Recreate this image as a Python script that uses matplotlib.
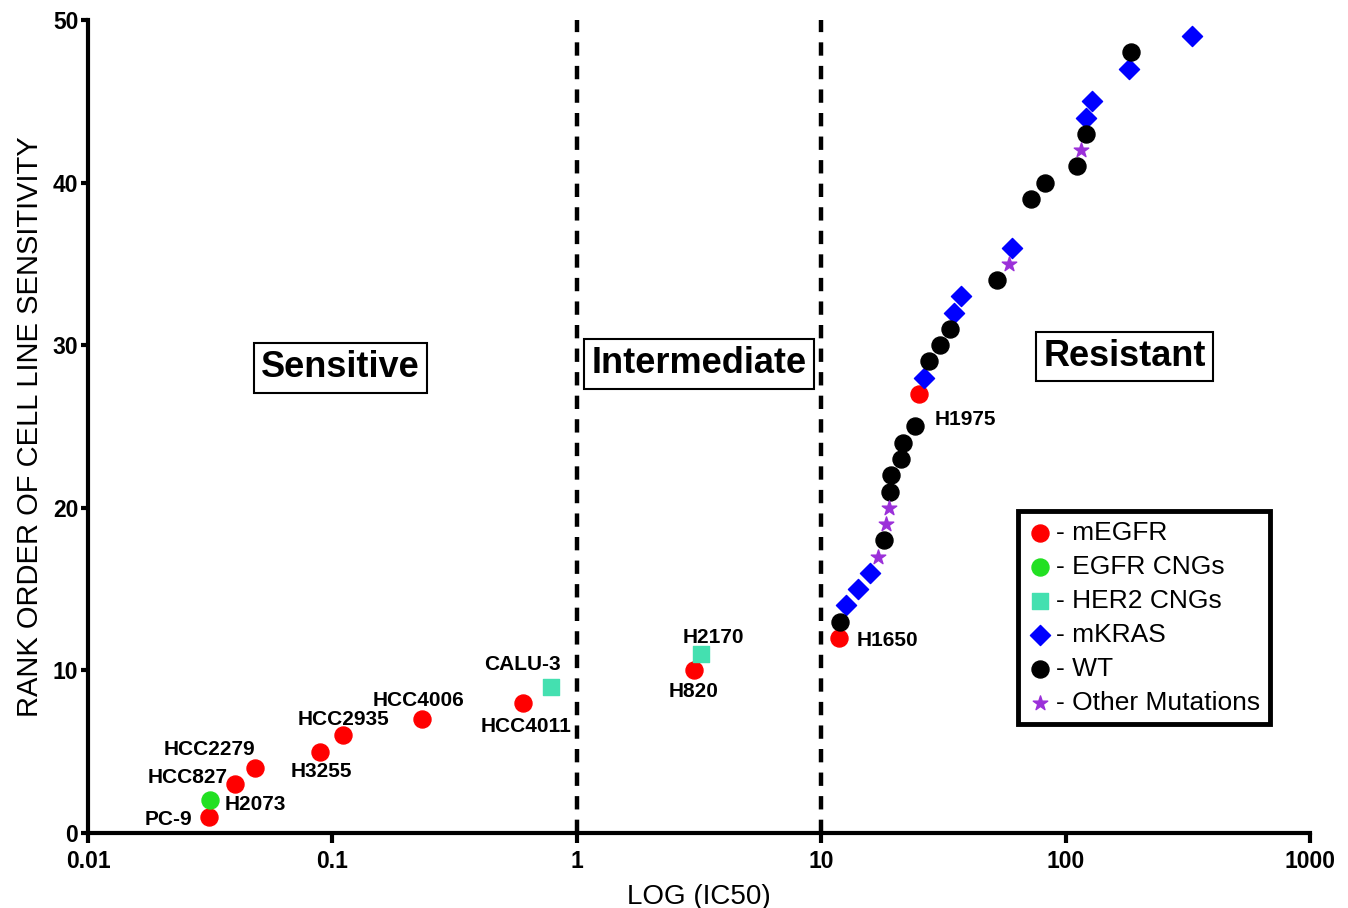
import matplotlib.pyplot as plt
import matplotlib.ticker as mticker

# IC50 values (x) and rank (y) per mutation group
megfr_x = [0.0313, 0.040, 0.0483, 0.0893, 0.111, 0.232, 0.601, 3.02, 11.85, 25.2]
megfr_y = [1, 3, 4, 5, 6, 7, 8, 10, 12, 27]
egfr_cng_x = [0.0316]
egfr_cng_y = [2]
her2_x = [0.782, 3.22]
her2_y = [9, 11]
mkras_x = [12.66, 14.18, 15.87, 26.4, 35.1, 37.2, 60.6, 120.8, 127.8, 181, 328]
mkras_y = [14, 15, 16, 28, 32, 33, 36, 44, 45, 47, 49]
wt_x = [11.96, 18.13, 19.19, 19.37, 21.28, 21.68, 24.29, 27.7, 30.5, 33.5,
        52.6, 71.9, 82.0, 111, 120.8, 184.6]
wt_y = [13, 18, 21, 22, 23, 24, 25, 29, 30, 31, 34, 39, 40, 41, 43, 48]
other_x = [17.13, 18.47, 19.0, 58.4, 116]
other_y = [17, 19, 20, 35, 42]

# cell line labels: name, x, y, offset in pixels
labels = [
    ('PC-9', 0.0313, 1, -41, -3),
    ('H2073', 0.0316, 2, 45, -4),
    ('HCC827', 0.040, 3, -48, 7),
    ('HCC2279', 0.0483, 4, -46, 18),
    ('H3255', 0.0893, 5, 1, -20),
    ('HCC2935', 0.111, 6, 0, 16),
    ('HCC4006', 0.232, 7, -3, 19),
    ('HCC4011', 0.601, 8, 3, -24),
    ('CALU-3', 0.782, 9, -28, 22),
    ('H2170', 3.22, 11, 12, 17),
    ('H820', 3.02, 10, -1, -21),
    ('H1650', 11.85, 12, 48, -3),
    ('H1975', 25.2, 27, 46, -26),
]

regions = ['Sensitive', 'Intermediate', 'Resistant']
region_x = [0.108, 3.16, 174.8]
region_y = [28.6, 28.85, 29.3]

plt.rcParams['font.family'] = ['Liberation Sans', 'DejaVu Sans']

fig = plt.figure(figsize=(13.48, 9.08), dpi=100)
ax = fig.add_axes([0.0653, 0.0826, 0.9065, 0.8954])

ax.scatter(megfr_x, megfr_y, s=150, c='#ff0000', marker='o', label='- mEGFR', zorder=3)
ax.scatter(egfr_cng_x, egfr_cng_y, s=150, c='#22e022', marker='o', label='- EGFR CNGs', zorder=3)
ax.scatter(her2_x, her2_y, s=130, c='#44e0b0', marker='s', label='- HER2 CNGs', zorder=3)
ax.scatter(mkras_x, mkras_y, s=105, c='#0000ff', marker='D', label='- mKRAS', zorder=3)
ax.scatter(wt_x, wt_y, s=150, c='#000000', marker='o', label='- WT', zorder=3)
ax.scatter(other_x, other_y, s=120, c='#9b30d9', marker='*', label='- Other Mutations', zorder=3)

for name, x, y, dx, dy in labels:
    ax.annotate(name, (x, y), xytext=(dx, dy), textcoords='offset pixels',
                ha='center', va='center', fontsize=15, fontweight='bold')

ax.axvline(1, color='black', lw=3.2, ls=(0, (3, 2.3)), zorder=1)
ax.axvline(10, color='black', lw=3.2, ls=(0, (3, 2.3)), zorder=1)

for txt, x, y in zip(regions, region_x, region_y):
    ax.text(x, y, txt, ha='center', va='center', fontsize=26, fontweight='bold',
            bbox=dict(boxstyle='square,pad=0.2', fc='white', ec='black', lw=1.5))

ax.set_xscale('log')
ax.set_xlim(0.01, 1000)
ax.set_ylim(0, 50)
ax.xaxis.set_major_locator(mticker.FixedLocator([0.01, 0.1, 1, 10, 100, 1000]))
ax.xaxis.set_major_formatter(mticker.FixedFormatter(['0.01', '0.1', '1', '10', '100', '1000']))
ax.xaxis.set_minor_locator(mticker.NullLocator())
ax.set_yticks([0, 10, 20, 30, 40, 50])

for s in ['top', 'right']:
    ax.spines[s].set_visible(False)
for s in ['left', 'bottom']:
    ax.spines[s].set_linewidth(3)
ax.tick_params(axis='x', width=3, length=7, labelsize=16.5, pad=5)
ax.tick_params(axis='y', width=3, length=5, labelsize=16.5, pad=2)
for lab in ax.get_xticklabels() + ax.get_yticklabels():
    lab.set_fontweight('bold')

ax.set_xlabel('LOG (IC50)', fontsize=20, labelpad=8)
ax.set_ylabel('RANK ORDER OF CELL LINE SENSITIVITY', fontsize=21, labelpad=6)

leg = ax.legend(loc='lower right', bbox_to_anchor=(0.967, 0.134), borderaxespad=0,
                fontsize=19, fancybox=False, frameon=True, handletextpad=0.1,
                labelspacing=0.38, borderpad=0.35, handlelength=1.0)
leg.get_frame().set_edgecolor('black')
leg.get_frame().set_linewidth(3.5)
leg.get_frame().set_alpha(1)

fig.savefig('out.png', dpi=100)
